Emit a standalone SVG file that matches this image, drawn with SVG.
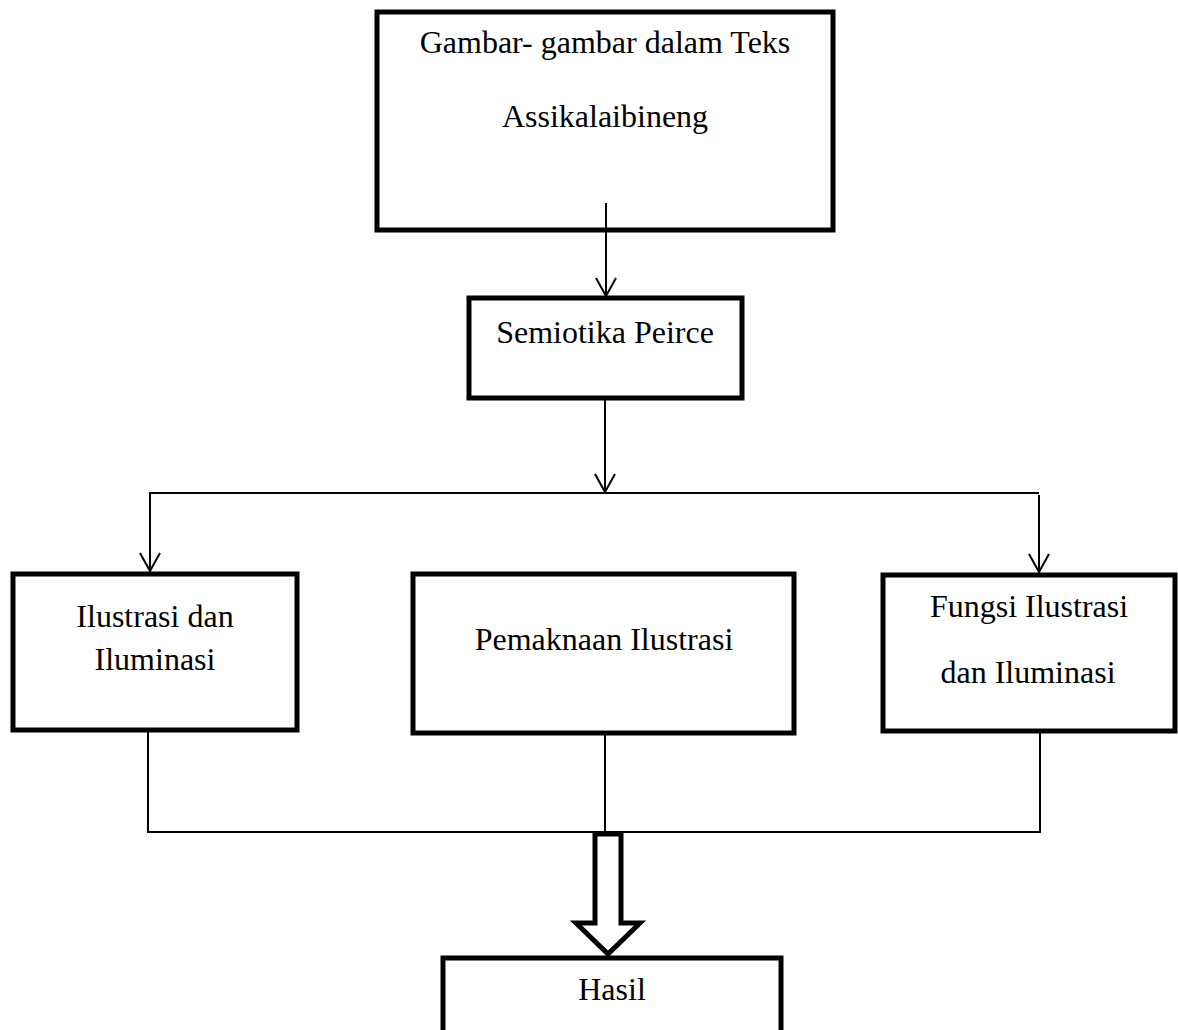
<svg xmlns="http://www.w3.org/2000/svg" width="1178" height="1030" viewBox="0 0 1178 1030">
<defs>
<style>
.box{fill:#fff;stroke:#000;stroke-width:5}
.ln{fill:none;stroke:#000;stroke-width:2}
.t{font-family:"Liberation Serif","Times New Roman",serif;font-size:32px;fill:#000;text-anchor:middle}
</style>
<marker id="v" viewBox="0 0 20 22" refX="19" refY="11" markerWidth="20" markerHeight="22" markerUnits="userSpaceOnUse" orient="auto">
<path d="M1,1 L19,11 L1,21" fill="none" stroke="#000" stroke-width="2"/>
</marker>
</defs>
<rect width="1178" height="1030" fill="#fff"/>
<g id="n-gambar">
<rect class="box" x="377" y="12" width="456" height="218"/>
<text class="t" x="605" y="53">Gambar- gambar dalam Teks</text>
<text class="t" x="605" y="127">Assikalaibineng</text>
</g>
<g id="n-semiotika">
<rect class="box" x="469" y="298" width="273" height="100"/>
<text class="t" x="605" y="343">Semiotika Peirce</text>
</g>
<g id="n-ilustrasi">
<rect class="box" x="13" y="574" width="284" height="156"/>
<text class="t" x="155" y="627">Ilustrasi dan</text>
<text class="t" x="155" y="670">Iluminasi</text>
</g>
<g id="n-pemaknaan">
<rect class="box" x="413" y="574" width="381" height="159"/>
<text class="t" x="604" y="650">Pemaknaan Ilustrasi</text>
</g>
<g id="n-fungsi">
<rect class="box" x="883" y="575" width="292" height="156"/>
<text class="t" x="1029" y="617">Fungsi Ilustrasi</text>
<text class="t" x="1028" y="683">dan Iluminasi</text>
</g>
<g id="n-hasil">
<rect class="box" x="443" y="958" width="338" height="90"/>
<text class="t" x="612" y="1000">Hasil</text>
</g>
<g id="connectors">
<line class="ln" x1="606" y1="203" x2="606" y2="296" marker-end="url(#v)"/>
<line class="ln" x1="605" y1="398" x2="605" y2="492" marker-end="url(#v)"/>
<line class="ln" x1="149" y1="493" x2="1039" y2="493"/>
<line class="ln" x1="150" y1="492" x2="150" y2="571" marker-end="url(#v)"/>
<line class="ln" x1="1039" y1="495" x2="1039" y2="572" marker-end="url(#v)"/>
<line class="ln" x1="148" y1="730" x2="148" y2="832"/>
<line class="ln" x1="605" y1="733" x2="605" y2="832"/>
<line class="ln" x1="1040" y1="731" x2="1040" y2="832"/>
<line class="ln" x1="147" y1="832" x2="1041" y2="832"/>
<path d="M595,834 L621,834 L621,923 L640,923 L608,954 L576,923 L595,923 Z" fill="#fff" stroke="#000" stroke-width="5" stroke-linejoin="miter"/>
</g>
</svg>
